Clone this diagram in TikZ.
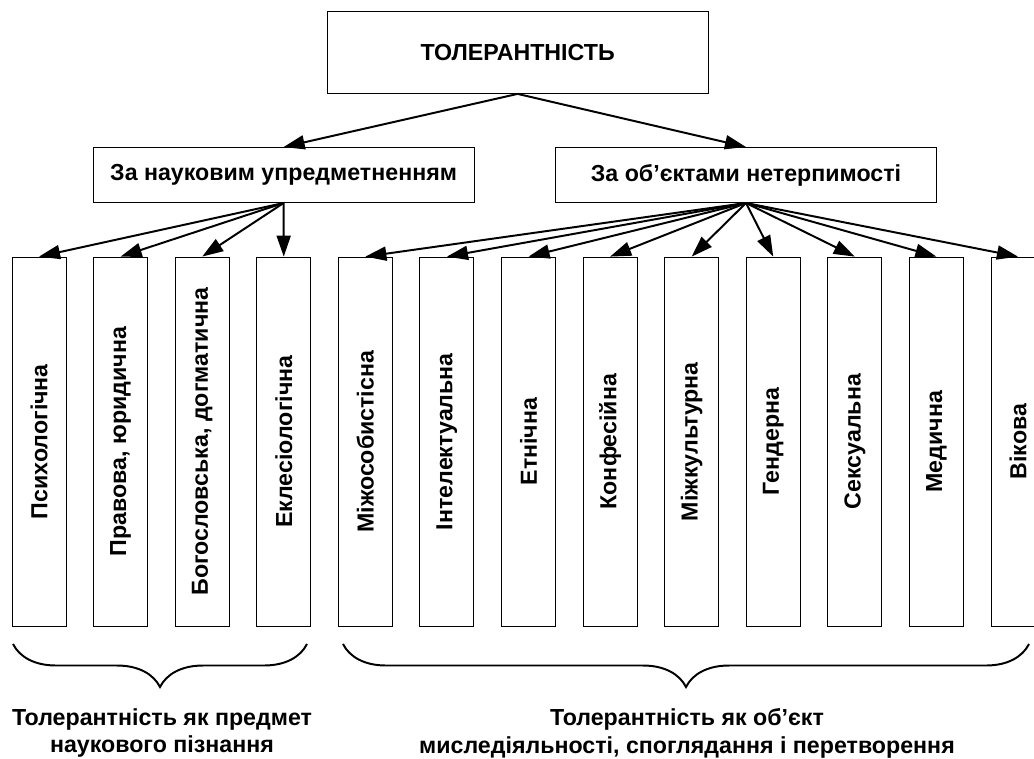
\documentclass[tikz,border=0pt]{standalone}
\usepackage{fontspec}
\setmainfont{Liberation Sans}
\usetikzlibrary{arrows.meta,decorations.pathreplacing}

\begin{document}
\begin{tikzpicture}[
  box/.style={draw,line width=0.7pt,inner sep=0pt,minimum width=9.525cm,
    font=\fontsize{16.5}{19.5}\selectfont\bfseries},
  vbox/.style={draw,line width=0.7pt,inner sep=0pt,minimum width=1.35cm,minimum height=9.225cm},
  vtext/.style={rotate=90,font=\fontsize{16.5}{19.5}\selectfont\bfseries},
  arr/.style={line width=1.4pt,-{Triangle[length=15pt,width=10pt]}},
  brc/.style={line width=1.4pt,decorate,decoration={brace,mirror,amplitude=1.075cm}},
  note/.style={align=center,font=\fontsize{16.5}{19.5}\selectfont\bfseries}
]

\useasboundingbox (0,0) rectangle (25.85,-18.95);
\clip (0,0) rectangle (25.85,-18.95);

% Top box
\node[box,minimum height=2.05cm] (tol) at (12.94,-1.31) {ТОЛЕРАНТНІСТЬ};

% Two groups
\node[box,minimum height=1.375cm] (sci) at (7.09,-4.375) {За науковим упредметненням};
\node[box,minimum height=1.375cm] (obj) at (18.65,-4.375) {За об’єктами нетерпимості};

\draw[arr] (tol.south) -- (sci.north);
\draw[arr] (tol.south) -- (obj.north);

% Vertical boxes
\foreach \i/\txt in {1/Психологічна, 2/{Правова, юридична}, 3/{Богословська, догматична},
  4/Еклесіологічна, 5/Міжособистісна, 6/Інтелектуальна, 7/Етнічна, 8/Конфесійна,
  9/Міжкультурна, 10/Гендерна, 11/Сексуальна, 12/Медична, 13/Вікова} {
  \node[vbox] (b\i) at ({0.975+(\i-1)*2.0396},-11.04) {};
  \node[vtext] at (b\i.center) {\txt};
}

% Arrows to vertical boxes
\foreach \i in {1,...,4} {
  \draw[arr] (sci.south) -- (b\i.north);
}
\foreach \i in {5,...,13} {
  \draw[arr] (obj.south) -- (b\i.north);
}

% Braces
\draw[brc] (0.325,-16.1) -- (7.675,-16.1);
\draw[brc] (8.575,-16.1) -- (25.725,-16.1);

% Captions
\node[note] (capl) at (4.05,-18.33) {Толерантність як предмет\\наукового пізнання};
\node[note] (capr) at (17.175,-18.33) {Толерантність як об’єкт\\миследіяльності, споглядання і перетворення};

\end{tikzpicture}
\end{document}
